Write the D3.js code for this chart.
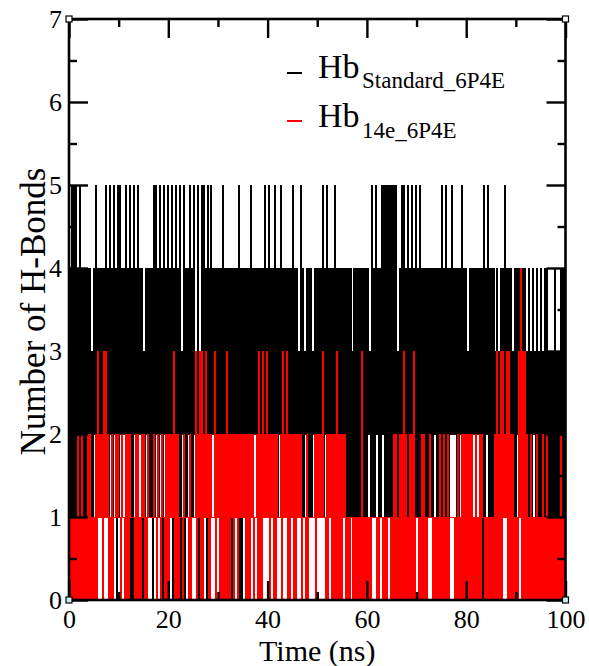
<!DOCTYPE html>
<html><head><meta charset="utf-8">
<script src="https://cdn.jsdelivr.net/npm/d3@7"></script>
<style>body{margin:0;background:#fff}</style>
</head><body>
<svg id="chart" width="589" height="666"></svg>
<script>
// ---- data (frames every 0.2 ns, integer H-bond counts) ----
const frameStep = 0.2;
const xTicks = [0, 20, 40, 60, 80, 100];
const xMinorTicks = [10, 30, 50, 70, 90];
const yTicks = [0, 1, 2, 3, 4, 5, 6, 7];
const yMinorTicks = [0.5, 1.5, 2.5, 3.5, 4.5, 5.5, 6.5];
const seriesLabels = ["Standard_6P4E", "14e_6P4E"];
const seriesColors = ["#000000", "#ff0000"];

const hbStandard = [
  1,4, 1,5, 1,5, 1,5, 1,4, 1,5, 1,4, 1,4, 1,4, 1,4, 1,4, 1,3, 1,4, 2,5, 2,4, 2,4, 2,4, 2,4, 2,5, 2,4, 1,5, 2,4, 1,5, 2,4, 0,5,
  1,5, 2,4, 2,4, 2,5, 2,4, 2,5, 0,4, 0,5, 2,4, 2,5, 2,4, 2,4, 0,3, 1,4, 2,4, 1,4, 1,4, 0,5, 1,5, 2,4, 1,5, 2,4, 0,5, 2,4, 2,5,
  2,4, 2,5, 0,4, 2,5, 2,4, 1,5, 0,3, 2,5, 0,4, 1,4, 2,5, 1,4, 1,5, 2,3, 2,5, 0,3, 2,5, 2,5, 2,4, 0,5, 2,4, 2,5, 2,4, 2,4, 2,4,
  2,4, 2,4, 2,5, 2,4, 2,4, 2,4, 2,4, 0,4, 2,4, 2,4, 2,5, 0,4, 0,4, 2,4, 2,4, 2,4, 2,5, 2,4, 2,4, 2,4, 2,4, 2,4, 2,4, 1,5, 2,4,
  2,5, 2,4, 2,4, 2,5, 2,4, 1,4, 2,5, 2,4, 2,4, 2,4, 2,4, 2,4, 2,5, 2,4, 2,4, 2,3, 2,5, 1,4, 1,3, 2,4, 1,4, 1,4, 1,3, 2,4, 2,4,
  2,4, 2,4, 2,5, 1,4, 2,5, 2,4, 2,4, 2,4, 2,5, 2,4, 2,4, 2,4, 2,4, 2,4, 1,4, 1,4, 1,4, 1,3, 1,4, 1,4, 1,4, 1,4, 1,4, 1,4, 1,4,
  1,4, 2,3, 1,5, 1,4, 1,5, 2,4, 1,4, 1,5, 2,5, 1,5, 1,5, 1,5, 1,5, 1,5, 1,5, 1,3, 1,4, 1,5, 1,5, 1,4, 1,5, 1,4, 1,5, 1,4, 1,5,
  1,4, 1,5, 1,4, 1,4, 1,4, 1,4, 1,4, 1,4, 1,4, 2,4, 1,4, 1,4, 1,5, 1,4, 1,5, 1,4, 1,4, 2,5, 2,4, 2,4, 1,4, 1,4, 2,5, 2,4, 2,4,
  2,3, 2,4, 2,4, 2,4, 2,4, 2,4, 2,4, 2,4, 0,5, 1,4, 2,5, 1,4, 1,4, 1,4, 2,3, 2,4, 2,3, 2,4, 2,4, 2,5, 2,4, 2,4, 2,4, 2,3, 1,4,
  1,4, 2,4, 2,4, 2,4, 2,4, 1,3, 1,4, 1,3, 1,4, 2,3, 1,4, 1,3, 1,4, 1,3, 1,4, 1,4, 1,3, 1,3, 1,3, 1,4, 1,3, 1,3, 1,4, 1,4, 1,4
];

const hb14e = [
  0,1, 0,1, 0,1, 0,1, 0,2, 0,1, 0,2, 0,1, 0,1, 0,2, 0,2, 0,1, 0,1, 0,2, 0,3, 1,2, 1,2, 0,3, 1,3, 1,2, 0,1, 0,2, 0,1, 1,2, 1,2,
  1,1, 0,2, 1,1, 0,2, 0,2, 0,2, 1,1, 1,1, 0,2, 0,2, 0,1, 0,2, 1,2, 0,1, 0,2, 1,1, 1,1, 1,2, 1,1, 0,2, 1,1, 0,2, 1,1, 0,2, 0,2,
  0,2, 1,2, 1,3, 0,2, 0,2, 0,1, 1,1, 0,2, 1,1, 1,1, 0,2, 0,1, 1,1, 1,3, 0,2, 1,3, 0,3, 0,2, 1,3, 1,2, 0,2, 0,2, 1,1, 1,3, 0,2,
  1,2, 0,2, 0,2, 0,2, 0,3, 0,2, 0,2, 1,2, 0,2, 1,2, 0,2, 1,2, 1,2, 1,2, 0,2, 0,2, 0,2, 1,2, 0,1, 1,2, 0,3, 0,2, 0,3, 1,2, 1,3,
  1,2, 0,2, 1,2, 0,2, 0,2, 1,1, 1,2, 0,3, 1,2, 1,3, 0,2, 0,2, 1,2, 0,2, 0,2, 1,2, 1,2, 0,1, 1,1, 0,2, 0,1, 1,1, 1,1, 1,2, 0,2,
  1,2, 1,2, 1,3, 1,1, 0,2, 0,2, 1,2, 0,2, 0,2, 0,3, 0,2, 0,2, 0,2, 1,2, 0,1, 0,1, 0,1, 1,1, 0,1, 0,1, 0,1, 0,1, 0,3, 0,1, 0,1,
  0,1, 0,1, 0,1, 1,1, 1,1, 0,1, 0,1, 1,1, 0,1, 0,1, 0,1, 1,1, 0,1, 0,2, 0,2, 0,1, 0,2, 0,2, 0,3, 0,2, 0,1, 0,2, 0,2, 0,3, 0,1,
  1,1, 0,1, 0,2, 0,2, 0,1, 0,1, 1,2, 1,1, 0,1, 0,1, 0,1, 0,2, 0,1, 0,2, 0,1, 0,2, 0,1, 1,1, 1,1, 0,1, 0,2, 0,1, 0,2, 0,2, 0,2,
  0,2, 0,2, 0,2, 0,1, 0,2, 0,1, 0,2, 0,2, 1,1, 0,1, 0,1, 0,1, 0,1, 0,1, 0,2, 0,3, 0,2, 0,3, 0,3, 1,2, 1,3, 0,3, 0,2, 0,2, 0,1,
  0,1, 0,3, 1,4, 0,3, 0,3, 0,2, 0,1, 0,2, 0,1, 0,1, 0,2, 0,1, 0,1, 0,2, 0,1, 0,2, 0,1, 0,1, 0,1, 0,1, 0,1, 0,1, 0,2, 0,1, 0,1
];

// ---- drawing ----
const svg = d3.select("#chart");
const FONT = "'Liberation Serif','Times New Roman',serif";
const x = d3.scaleLinear().domain([0, 100]).range([69, 565.5]);
const y = d3.scaleLinear().domain([0, 7]).range([600, 19]);

svg.append("rect").attr("width", 589).attr("height", 666).attr("fill", "#fff");

svg.append("clipPath").attr("id", "plotclip").append("rect")
  .attr("x", x(0)).attr("y", y(7)).attr("width", x(100) - x(0)).attr("height", y(0) - y(7));

function toPoints(vals) {
  const pts = vals.map((v, i) => ({ t: i * frameStep, v }));
  pts.push({ t: 100, v: vals[vals.length - 1] });
  return pts;
}
const line = d3.line().x(d => x(d.t)).y(d => y(d.v)).curve(d3.curveStepAfter);

const plot = svg.append("g").attr("clip-path", "url(#plotclip)");
[hbStandard, hb14e].forEach((vals, si) => {
  plot.append("path").datum(toPoints(vals))
    .attr("d", line).attr("fill", "none")
    .attr("stroke", seriesColors[si]).attr("stroke-width", 1.0)
    .attr("shape-rendering", "crispEdges");
});

// axes (ticks inward, mirrored on all sides)
const MAJ = 19, MIN = 8, TW = 2.4;
function styleAxis(g) {
  g.select(".domain").remove();
  g.selectAll(".tick line").attr("stroke", "#000").attr("stroke-width", TW);
  g.selectAll("text").attr("font-family", FONT).attr("font-size", 26).attr("fill", "#000");
}
const gB = svg.append("g").attr("transform", `translate(0,${y(0)})`)
  .call(d3.axisBottom(x).tickValues(xTicks).tickSizeInner(-MAJ).tickSizeOuter(0).tickPadding(10).tickFormat(d3.format("d")));
styleAxis(gB);
gB.selectAll("text").attr("dy", "0.71em");
svg.append("g").attr("transform", `translate(0,${y(0)})`)
  .call(d3.axisBottom(x).tickValues(xMinorTicks).tickSizeInner(-MIN).tickSizeOuter(0).tickFormat("")).call(styleAxis);
svg.append("g").attr("transform", `translate(0,${y(7)})`)
  .call(d3.axisTop(x).tickValues(xTicks).tickSizeInner(-MAJ).tickSizeOuter(0).tickFormat("")).call(styleAxis);
svg.append("g").attr("transform", `translate(0,${y(7)})`)
  .call(d3.axisTop(x).tickValues(xMinorTicks).tickSizeInner(-MIN).tickSizeOuter(0).tickFormat("")).call(styleAxis);

const gL = svg.append("g").attr("transform", `translate(${x(0)},0)`)
  .call(d3.axisLeft(y).tickValues(yTicks).tickSizeInner(-MAJ).tickSizeOuter(0).tickPadding(7).tickFormat(d3.format("d")));
styleAxis(gL);
gL.selectAll("text").attr("dy", "0.34em");
svg.append("g").attr("transform", `translate(${x(0)},0)`)
  .call(d3.axisLeft(y).tickValues(yMinorTicks).tickSizeInner(-MIN).tickSizeOuter(0).tickFormat("")).call(styleAxis);
svg.append("g").attr("transform", `translate(${x(100)},0)`)
  .call(d3.axisRight(y).tickValues(yTicks).tickSizeInner(-MAJ).tickSizeOuter(0).tickFormat("")).call(styleAxis);
svg.append("g").attr("transform", `translate(${x(100)},0)`)
  .call(d3.axisRight(y).tickValues(yMinorTicks).tickSizeInner(-MIN).tickSizeOuter(0).tickFormat("")).call(styleAxis);

// frame
svg.append("rect").attr("x", x(0)).attr("y", y(7))
  .attr("width", x(100) - x(0)).attr("height", y(0) - y(7))
  .attr("fill", "none").attr("stroke", "#000").attr("stroke-width", 2.6);

// small corner markers
[[0, 7, "#fff"], [100, 7, "#fff"], [0, 0, "#cdeff4"], [100, 0, "#cdeff4"]].forEach(([cx, cy, f]) => {
  svg.append("rect").attr("x", x(cx) - 3).attr("y", y(cy) - 3).attr("width", 6).attr("height", 6)
    .attr("fill", f).attr("stroke", "#000").attr("stroke-width", 1.2);
});

// axis titles
svg.append("text").attr("x", (x(0) + x(100)) / 2).attr("y", 661)
  .attr("text-anchor", "middle").attr("font-family", FONT).attr("font-size", 30).text("Time (ns)");
svg.append("text").attr("transform", `translate(45,${(y(0) + y(7)) / 2 + 2}) rotate(-90)`)
  .attr("text-anchor", "middle").attr("font-family", FONT).attr("font-size", 35).text("Number of H-Bonds");

// legend
const legendRows = [{ lineY: 73, base: 78, sub: 88 }, { lineY: 121, base: 127, sub: 138 }];
legendRows.forEach((r, i) => {
  svg.append("line").attr("x1", 287).attr("x2", 302).attr("y1", r.lineY).attr("y2", r.lineY)
    .attr("stroke", seriesColors[i]).attr("stroke-width", 2);
  svg.append("text").attr("x", 318).attr("y", r.base).attr("font-family", FONT).attr("font-size", 34).text("Hb");
  svg.append("text").attr("x", 362).attr("y", r.sub).attr("font-family", FONT).attr("font-size", 23).text(seriesLabels[i]);
});
</script>
</body></html>
